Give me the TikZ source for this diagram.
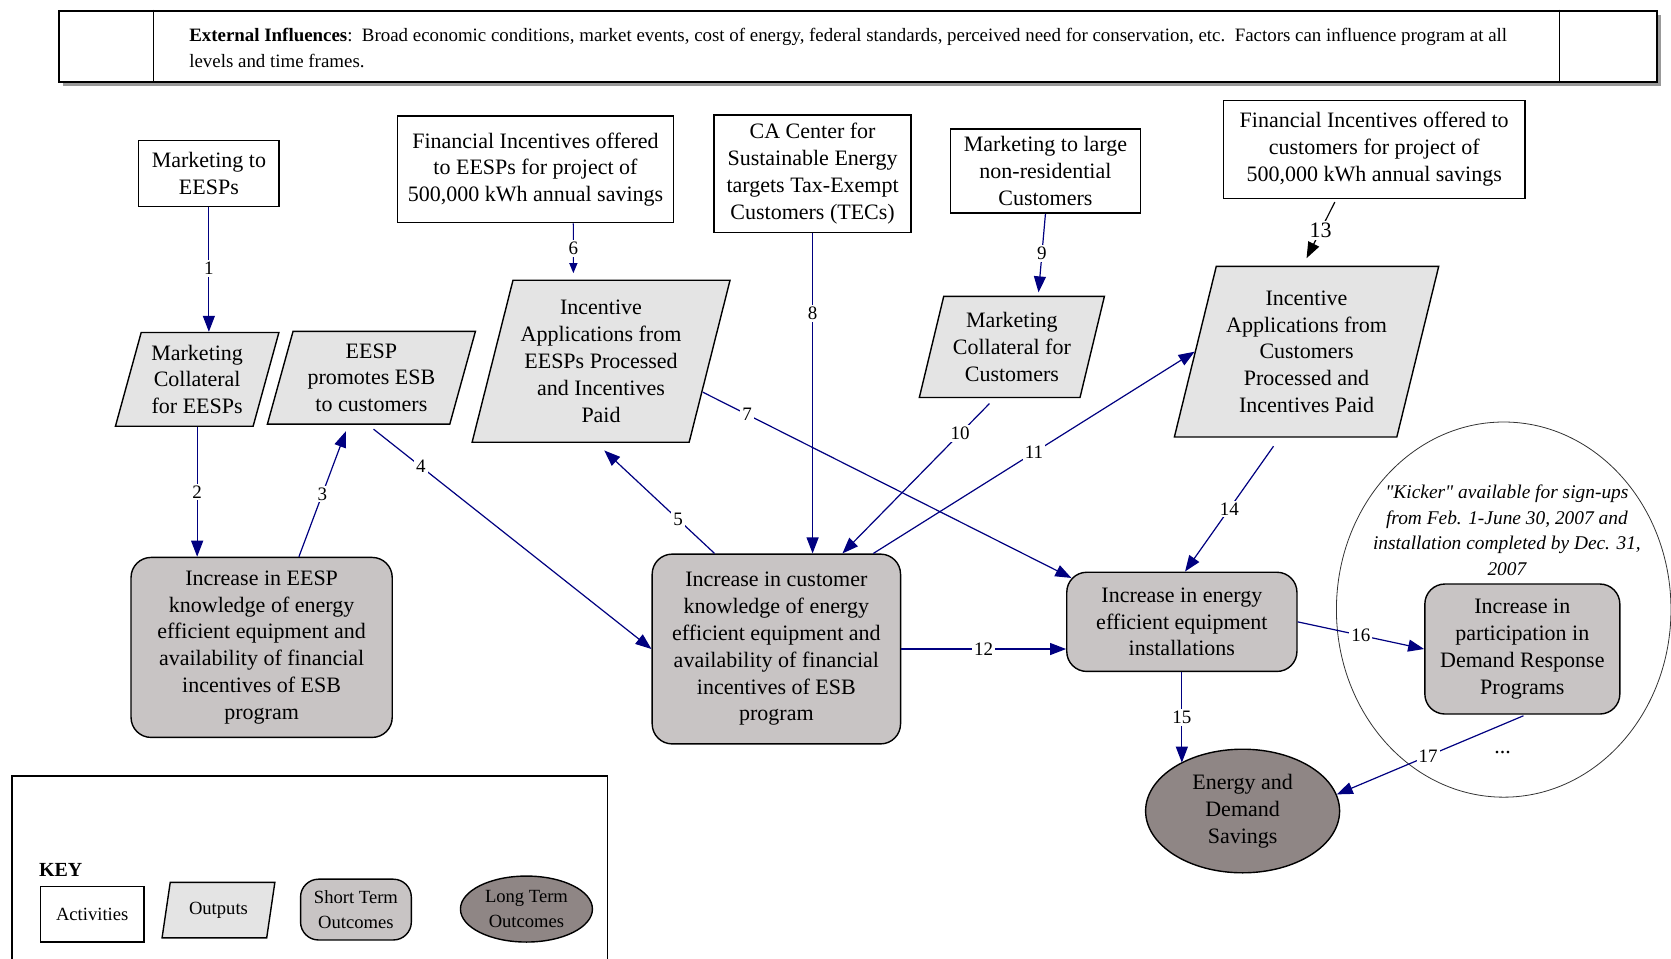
\documentclass[tikz,border=0pt]{standalone}
\usepackage{fontspec}
\setmainfont{Liberation Serif}
\newfontfamily\kickfont{Liberation Serif}[Ligatures=TeXOff]
\usetikzlibrary{arrows.meta, positioning, calc, shapes.geometric, shadows}
\definecolor{outgray}{HTML}{E4E4E4}
\definecolor{shortgray}{HTML}{C8C4C4}
\definecolor{longgray}{HTML}{8F8685}
\definecolor{navyline}{HTML}{000080}
\newcommand{\boxfont}{\fontsize{11}{13.4}\selectfont}
\newcommand{\keyfont}{\fontsize{9.3}{12.8}\selectfont}

\begin{document}
\begin{tikzpicture}[x=0.5329pt, y=-0.5329pt,
    act/.style={draw, line width=0.7pt, rectangle, fill=white, inner sep=0, align=center, font=\boxfont},
    outp/.style={draw, line width=0.7pt, trapezium, trapezium left angle=73, trapezium right angle=107, trapezium stretches=true, fill=outgray, inner sep=0, align=center, font=\boxfont},
    sto/.style={draw, line width=0.7pt, rectangle, rounded corners=10pt, fill=shortgray, inner sep=0, align=center, font=\boxfont},
    lto/.style={draw, line width=0.7pt, ellipse, fill=longgray, inner sep=0, align=center, font=\boxfont},
    lbl/.style={fill=white, inner sep=1pt, font=\fontsize{9.5}{11}\selectfont},
    cn/.style={draw=navyline, line width=0.6pt, ->},
    >={Triangle[length=8pt, width=6pt]}]
\useasboundingbox (0,0) rectangle (1568,899);
\node[draw, line width=1pt, fill=white, minimum width=799.4pt, minimum height=35.7pt, drop shadow={fill=gray!80, opacity=1, shadow xshift=2pt, shadow yshift=-2pt}] (ext) at (805,43.5) {};
\draw ($(ext.north west)+(90,0)$) -- ($(ext.south west)+(90,0)$);
\draw ($(ext.north east)+(-93,0)$) -- ($(ext.south east)+(-93,0)$);
\node[anchor=west, align=left, font=\fontsize{9.45}{12.8}\selectfont] (extxt) at (171,45) {\textbf{External Influences}:\ \ Broad economic conditions, market events, cost of energy, federal standards, perceived need for conservation, etc.\ \ Factors can influence program at all\\levels and time frames.};
\node[act, minimum width=70.3pt, minimum height=33pt] (mktE) at (196,163) {Marketing to\\EESPs};
\node[act, minimum width=138pt, minimum height=53.3pt] (finE) at (502.5,159) {Financial Incentives offered\\to EESPs for project of\\500,000 kWh annual savings};
\node[act, minimum width=98.6pt, minimum height=58.6pt] (casei) at (762.5,163) {CA Center for\\Sustainable Energy\\targets Tax-Exempt\\Customers (TECs)};
\node[act, minimum width=94.9pt, minimum height=42.1pt] (mktC) at (981,160.5) {Marketing to large\\non-residential\\Customers};
\node[act, minimum width=150.8pt, minimum height=49pt] (finC) at (1289.5,140) {Financial Incentives offered to\\customers for project of\\500,000 kWh annual savings};
\node[outp, minimum width=82pt, minimum height=46.9pt] (colE) at (185,356) {Marketing\\Collateral\\for EESPs};
\node[outp, minimum width=105pt, minimum height=46.4pt] (promo) at (348.5,354.5) {EESP\\promotes ESB\\to customers};
\node[outp, minimum width=129pt, minimum height=81pt] (appE) at (564,339) {Incentive\\Applications from\\EESPs Processed\\and Incentives\\Paid};
\node[outp, minimum width=93.3pt, minimum height=50.6pt] (colC) at (949.5,325.5) {Marketing\\Collateral for\\Customers};
\node[outp, minimum width=132.2pt, minimum height=85.3pt] (appC) at (1226,330) {Incentive\\Applications from\\Customers\\Processed and\\Incentives Paid};
\node[draw=black!80, ellipse, minimum width=167.3pt, minimum height=187.6pt] (kicker) at (1411,572) {};
\node[align=center, font=\kickfont\fontsize{9.7}{12.8}\selectfont\itshape] (kicktxt) at (1414,497.5) {"Kicker" available for sign-ups\\from Feb. 1-June 30, 2007 and\\installation completed by Dec. 31,\\2007};
\node[font=\boxfont] (dots) at (1410,706) {...};
\node[sto, minimum width=130.6pt, minimum height=90pt] (kE) at (245.5,607.5) {Increase in EESP\\knowledge of energy\\efficient equipment and\\availability of financial\\incentives of ESB\\program};
\node[sto, minimum width=124.2pt, minimum height=94.9pt] (kC) at (728.5,609) {Increase in customer\\knowledge of energy\\efficient equipment and\\availability of financial\\incentives of ESB\\program};
\node[sto, minimum width=115.1pt, minimum height=49.6pt] (inst) at (1109,583.5) {Increase in energy\\efficient equipment\\installations};
\node[sto, minimum width=97.5pt, minimum height=65pt] (drp) at (1428.5,609) {Increase in\\participation in\\Demand Response\\Programs};
\node[lto, minimum width=97pt, minimum height=61.8pt] (sav) at (1166,761) {Energy and\\Demand\\Savings};
\draw[cn] (mktE.south) -- node[lbl, pos=.49] {1} (mktE.south |- colE.north);
\draw[cn] (colE.south) -- node[lbl] {2} (colE.south |- kE.north);
\draw[cn] ($(kE.north)+(35,0)$) -- node[lbl] {3} ($(promo.south)+(-24,6)$);
\draw[cn] ($(promo.south)+(2,4)$) -- node[lbl, pos=.17] {4} (kC.west);
\draw[cn] ($(kC.north)+(-58,0)$) -- node[lbl, pos=.33] {5} ($(appE.south)+(3,7)$);
\draw[cn, -{Triangle[length=5pt, width=4pt]}] ($(finE.south)+(35.5,0)$) -- node[lbl] {6} ($(appE.north)+(-26,-6)$);
\draw[cn] ($(appE.east)+(-7,29)$) -- node[lbl, pos=.12] {7} ($(inst.north west)+(5,6)$);
\draw[cn] (casei.south) -- node[lbl, pos=.25] {8} (casei.south |- kC.north);
\draw[cn] (mktC.south) -- node[lbl] {9} ($(colC.north)+(25,-3)$);
\draw[cn] ($(colC.south)+(-21,5)$) -- node[lbl, pos=.2] {10} ($(kC.north)+(62,0)$);
\draw[cn] ($(kC.north)+(91,0)$) -- node[lbl] {11} (appC.west);
\draw[cn] (kC.east) -- node[lbl] {12} (kC.east -| inst.west);
\draw[line width=0.6pt, ->] ($(finC.south)+(-37,3)$) -- node[lbl, font=\fontsize{11}{13}\selectfont] {13} ($(appC.north)+(0,-7)$);
\draw[cn] ($(appC.south)+(-31,8)$) -- node[lbl] {14} ($(inst.north)+(3,0)$);
\draw[cn] (inst.south) -- node[lbl] {15} (inst.south |- sav.142);
\draw[cn] (inst.east) -- node[lbl] {16} (drp.west);
\draw[cn] ($(drp.south)+(1,1)$) -- node[lbl, pos=.51] {17} (sav.10);
\draw[line width=0.8pt] (11,905) -- (11,728) -- (570,728) -- (570,905);
\node[anchor=west, font=\fontsize{10}{12}\selectfont\bfseries] (keyhd) at (30,816) {KEY};
\node[act, font=\keyfont, minimum width=51.7pt, minimum height=27.7pt] (kAct) at (86.5,858) {Activities};
\node[outp, font=\keyfont, minimum width=56.5pt, minimum height=27.7pt] (kOut) at (205,854) {Outputs};
\node[sto, font=\keyfont, rounded corners=9pt, minimum width=55.4pt, minimum height=30.4pt] (kSt) at (334,853.5) {Short Term\\Outcomes};
\node[lto, font=\keyfont, minimum width=66pt, minimum height=33pt] (kLt) at (494,853) {Long Term\\Outcomes};
\end{tikzpicture}
\end{document}
